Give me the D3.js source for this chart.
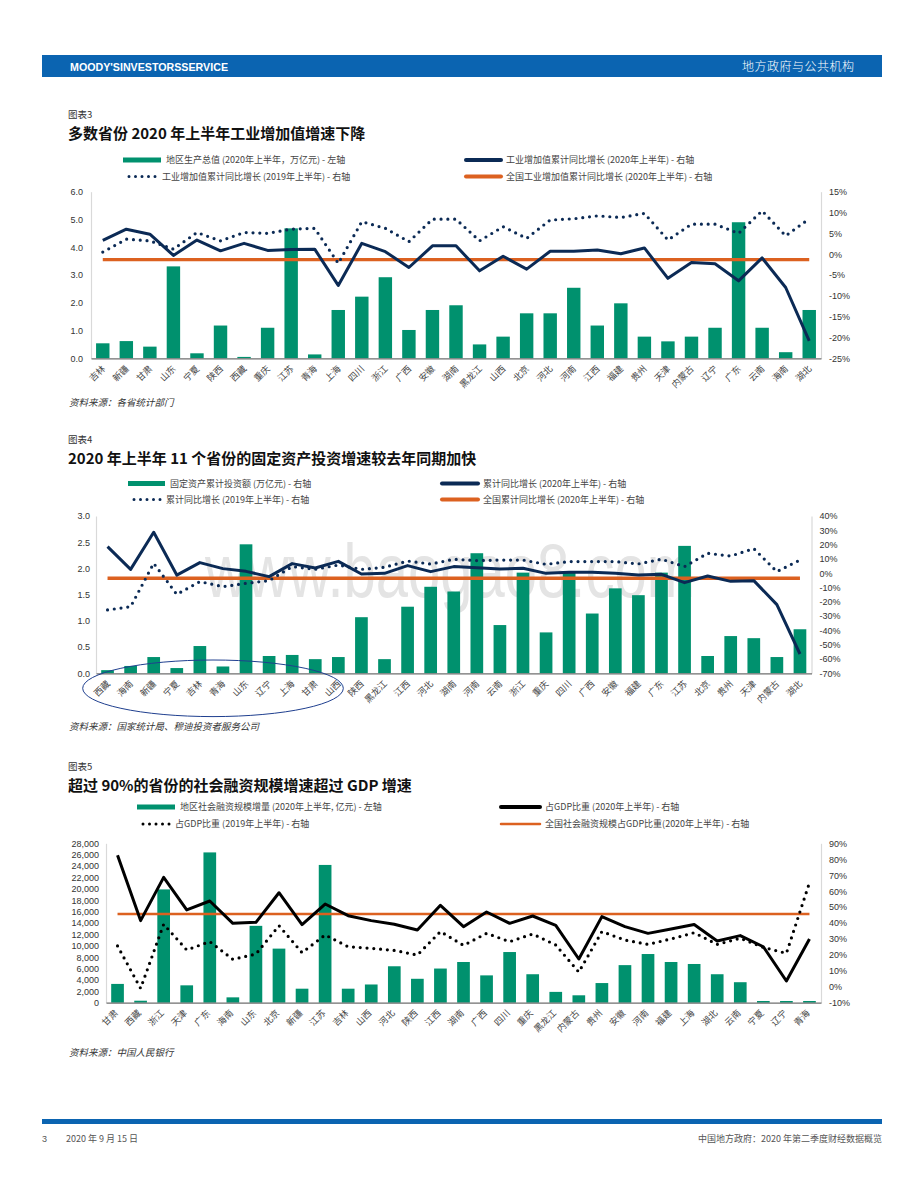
<!DOCTYPE html>
<html>
<head>
<meta charset="utf-8">
<script src="https://cdn.jsdelivr.net/npm/d3@7"></script>
<style>
body { margin: 0; background: #fff; }
svg text { font-family: "Liberation Sans", "Noto Sans CJK SC", sans-serif; }
.cjk { font-family: "Noto Sans CJK SC", sans-serif; }
</style>
</head>
<body>
<svg id="page" width="920" height="1191"></svg>
<script>
// Chart 3 data =========================================================
var cats3 = ["吉林","新疆","甘肃","山东","宁夏","陕西","西藏","重庆","江苏","青海","上海","四川","浙江","广西","安徽","湖南","黑龙江","山西","北京","河北","河南","江西","福建","贵州","天津","内蒙古","辽宁","广东","云南","海南","湖北"];
var gdp3 = [0.54,0.62,0.42,3.31,0.18,1.18,0.05,1.10,4.68,0.14,1.74,2.22,2.92,1.02,1.74,1.91,0.50,0.78,1.62,1.62,2.54,1.18,1.98,0.78,0.61,0.78,1.10,4.90,1.10,0.22,1.74];
var iva2020 = [3.3,6.0,4.8,-0.3,3.4,0.8,2.6,0.9,1.1,1.2,-7.5,2.6,0.6,-3.2,2.0,2.0,-4.0,-0.5,-3.6,0.7,0.7,1.0,0.1,1.5,-5.8,-2.0,-2.3,-6.4,-0.9,-8.0,-20.8];
var iva2019 = [0.5,3.6,3.2,1.2,5.2,3.2,5.2,5.0,6.0,6.2,-2.2,7.8,6.2,3.0,8.4,8.4,3.2,6.6,3.8,8.2,8.5,9.2,8.8,9.8,3.4,7.2,7.2,5.0,10.4,4.4,8.5];
var ivaNational = -1.3;
var ticksL3 = [0,1,2,3,4,5,6];
var ticksR3 = [-25,-20,-15,-10,-5,0,5,10,15];

// Chart 4 data =========================================================
var cats4 = ["西藏","海南","新疆","宁夏","吉林","青海","山东","辽宁","上海","甘肃","山西","陕西","黑龙江","江西","河北","湖南","河南","云南","浙江","重庆","四川","广西","安徽","福建","广东","江苏","北京","贵州","天津","内蒙古","湖北"];
var fai4 = [0.06,0.14,0.31,0.10,0.52,0.13,2.46,0.33,0.35,0.27,0.31,1.07,0.27,1.27,1.65,1.56,2.29,0.92,1.92,0.78,1.95,1.14,1.62,1.49,1.92,2.43,0.33,0.71,0.67,0.31,0.84];
var fai2020 = [18.6,2.7,28.6,-1.3,7.4,3.2,1.3,-2.4,6.7,3.6,8.3,-0.6,-0.1,5.3,1.1,4.6,3.8,3.0,3.4,-0.1,0.6,0.6,-0.1,-1.3,-0.8,-6.6,-2.0,-5.7,-5.2,-22.0,-56.5];
var fai2019 = [-25.7,-23.4,6.9,-14.8,-5.9,-9.4,-7.1,-5.2,4.6,2.7,5.7,2.7,4.1,8.5,6.4,9.7,8.8,9.2,9.2,6.2,8.1,8.1,8.1,6.5,9.8,4.6,13.9,12.0,17.2,1.1,9.2];
var faiNational = -3.5;
var ticksL4 = [0,0.5,1,1.5,2,2.5,3];
var ticksR4 = [-70,-60,-50,-40,-30,-20,-10,0,10,20,30,40];

// Chart 5 data =========================================================
var cats5 = ["甘肃","西藏","浙江","天津","广东","海南","山东","北京","新疆","江苏","吉林","山西","河北","陕西","江西","湖南","广西","四川","重庆","黑龙江","内蒙古","贵州","安徽","河南","福建","上海","湖北","云南","宁夏","辽宁","青海"];
var tsf5 = [3300,350,19900,3050,26400,940,13500,9500,2460,24200,2460,3200,6400,4200,6000,7150,4800,8900,5000,1900,1300,3450,6600,8550,7150,6800,5000,3600,300,300,300];
var ratio2020 = [82.5,41.5,68.6,48.2,53.8,39.8,40.4,59.0,39.0,51.9,44.6,41.5,39.2,35.6,51.1,37.7,46.9,39.8,44.4,38.5,17.4,44.0,37.7,33.5,36.2,39.0,28.7,32.1,25.1,3.6,30.0];
var ratio2019 = [25.6,-1.0,39.2,23.1,28.3,17.2,20.5,38.3,21.4,32.5,25.1,24.1,22.8,19.9,34.6,26.0,33.5,28.3,33.1,26.2,9.2,34.6,29.3,26.6,30.0,33.9,26.6,30.4,24.7,21.0,65.3];
var ratioNational = 45.6;
var ticksL5 = d3.range(0, 28001, 2000);
var ticksR5 = [-10,0,10,20,30,40,50,60,70,80,90];

var GREEN = "#00916e", NAVY = "#0b2a55", ORANGE = "#dc6120", GREY = "#555";

var svg = d3.select("#page");

// Page frame ===========================================================
svg.append("rect").attr("x", 42).attr("y", 55).attr("width", 840).attr("height", 22).attr("fill", "#0b64b1");
svg.append("text").attr("x", 70).attr("y", 70.5).attr("fill", "#fff")
	.attr("font-family", "Open Sans").attr("font-weight", 700).attr("font-size", 10.5)
	.attr("textLength", 158).attr("lengthAdjust", "spacingAndGlyphs")
	.text("MOODY'SINVESTORSSERVICE");
svg.append("text").attr("class", "cjk").attr("x", 854).attr("y", 71).attr("fill", "#fff")
	.attr("text-anchor", "end").attr("font-size", 12).attr("font-weight", 300)
	.attr("textLength", 112).text("地方政府与公共机构");

svg.append("rect").attr("x", 42).attr("y", 1119).attr("width", 840).attr("height", 5).attr("fill", "#0b64b1");
svg.append("text").attr("x", 42).attr("y", 1142).attr("fill", GREY).attr("font-size", 9).text("3");
svg.append("text").attr("class", "cjk").attr("x", 66).attr("y", 1142).attr("fill", GREY).attr("font-size", 9).text("2020 年 9 月 15 日");
svg.append("text").attr("class", "cjk").attr("x", 882).attr("y", 1142).attr("fill", GREY).attr("font-size", 9)
	.attr("text-anchor", "end").text("中国地方政府：2020 年第二季度财经数据概览");

// Functions ============================================================

function heading(y, label, title) {
	svg.append("text").attr("class", "cjk").attr("x", 68).attr("y", y).attr("font-size", 9.5)
		.attr("fill", "#333").text(label);
	svg.append("text").attr("class", "cjk").attr("x", 68).attr("y", y + 21).attr("font-size", 15)
		.attr("font-weight", 700).attr("fill", "#111").text(title);
}

function source(y, txt) {
	svg.append("text").attr("class", "cjk").attr("x", 69).attr("y", y).attr("font-size", 9.5)
		.attr("font-style", "italic").attr("fill", "#333").text(txt);
}

// one legend entry: kind = bar | line | dots
function legendItem(x1, x2, y, kind, color, width, txt) {
	if (kind == "bar") {
		svg.append("rect").attr("x", x1).attr("y", y - 2.5).attr("width", x2 - x1).attr("height", 5).attr("fill", color);
	} else {
		svg.append("line").attr("x1", x1).attr("x2", x2).attr("y1", y).attr("y2", y)
			.attr("stroke", color).attr("stroke-width", width).attr("stroke-linecap", "round")
			.attr("stroke-dasharray", kind == "dots" ? "0,6.5" : null);
	}
	svg.append("text").attr("class", "cjk").attr("x", x2 + 5).attr("y", y + 3.2).attr("font-size", 9)
		.attr("fill", "#444").text(txt);
}

function drawChart(c) {
	var g = svg.append("g");
	var x = d3.scaleBand().domain(c.cats).range([c.left, c.right]).paddingInner(c.pad).paddingOuter(c.pad / 2);
	var yL = d3.scaleLinear().domain(c.yLeft).range([c.bottom, c.top]);
	var yR = d3.scaleLinear().domain(c.yRight).range([c.bottom, c.top]);
	var cx = function(i) { return x(c.cats[i]) + x.bandwidth() / 2; };
	var idx = d3.range(c.cats.length);

	if (c.watermark) {
		// faint site watermark behind the marks
		g.append("text").attr("transform", "translate(205,597) scale(1,1.3)")
			.attr("font-size", 58).attr("fill", "#e4e4e4").text(c.watermark);
	}

	var axL = g.append("g").attr("transform", "translate(" + c.left + ",0)")
		.call(d3.axisLeft(yL).tickValues(c.ticksL).tickFormat(c.fmtL).tickSize(0).tickPadding(c.padL));
	var axR = g.append("g").attr("transform", "translate(" + c.right + ",0)")
		.call(d3.axisRight(yR).tickValues(c.ticksR).tickFormat(function(d) { return d + "%"; }).tickSize(0).tickPadding(8));
	[axL, axR].forEach(function(a) {
		a.attr("font-family", "Liberation Sans").attr("font-size", 9);
		a.select(".domain").attr("stroke", "#d9d9d9").attr("stroke-width", 1.2);
		a.selectAll("text").attr("fill", "#333");
	});

	g.selectAll("rect.bar").data(idx).join("rect")
		.attr("class", "bar")
		.attr("x", function(i) { return x(c.cats[i]); })
		.attr("width", x.bandwidth())
		.attr("y", function(i) { return yL(c.bars[i]); })
		.attr("height", function(i) { return yL(0) - yL(c.bars[i]); })
		.attr("fill", GREEN);

	var axB = g.append("g").attr("transform", "translate(0," + c.bottom + ")")
		.call(d3.axisBottom(x).tickSize(0));
	axB.select(".domain").attr("stroke", "#6f6f6f").attr("stroke-width", 1.2);
	axB.selectAll("text")
		.attr("class", "cjk").attr("font-size", 9).attr("fill", "#444")
		.attr("y", 0).attr("dy", 0).attr("text-anchor", "end")
		.attr("transform", "translate(" + c.labDx + "," + c.labDy + ") rotate(-45)");

	var line = function(vals) {
		return d3.line().x(function(i) { return cx(i); }).y(function(i) { return yR(vals[i]); })(idx);
	};

	g.append("line")
		.attr("x1", cx(0)).attr("x2", cx(c.cats.length - 1))
		.attr("y1", yR(c.national)).attr("y2", yR(c.national))
		.attr("stroke", ORANGE).attr("stroke-width", c.natWidth);

	g.append("path").attr("d", line(c.prev)).attr("fill", "none")
		.attr("stroke", c.lineColor).attr("stroke-width", 3.2)
		.attr("stroke-linecap", "round").attr("stroke-dasharray", "0,6.8");

	g.append("path").attr("d", line(c.cur)).attr("fill", "none")
		.attr("stroke", c.lineColor).attr("stroke-width", 3).attr("stroke-linejoin", "round");
	return g;
}

// Chart 3 ==============================================================
heading(118, "图表3", "多数省份 2020 年上半年工业增加值增速下降");
legendItem(123, 161, 160, "bar", GREEN, 5, "地区生产总值 (2020年上半年，万亿元) - 左轴");
legendItem(129, 157, 176.5, "dots", NAVY, 3, "工业增加值累计同比增长 (2019年上半年) - 右轴");
legendItem(466, 501, 160, "line", NAVY, 4, "工业增加值累计同比增长 (2020年上半年) - 右轴");
legendItem(466, 501, 176.5, "line", ORANGE, 4, "全国工业增加值累计同比增长 (2020年上半年) - 右轴");
drawChart({
	cats: cats3, bars: gdp3, cur: iva2020, prev: iva2019, national: ivaNational,
	left: 91, right: 821, top: 191.7, bottom: 358.3, pad: 0.43,
	yLeft: [0, 6], yRight: [-25, 15], ticksL: ticksL3, ticksR: ticksR3,
	fmtL: d3.format(".1f"), padL: 8, labDx: 3, labDy: 11,
	lineColor: NAVY, natWidth: 3.4
});
source(406, "资料来源：各省统计部门");

// Chart 4 ==============================================================
heading(443, "图表4", "2020 年上半年 11 个省份的固定资产投资增速较去年同期加快");
legendItem(128, 165, 483.5, "bar", GREEN, 5, "固定资产累计投资额 (万亿元) - 右轴");
legendItem(134, 161, 499.5, "dots", NAVY, 3, "累计同比增长 (2019年上半年) - 右轴");
legendItem(442, 478, 483.5, "line", NAVY, 4, "累计同比增长 (2020年上半年) - 右轴");
legendItem(442, 478, 499.5, "line", ORANGE, 4, "全国累计同比增长 (2020年上半年) - 右轴");
drawChart({
	cats: cats4, bars: fai4, cur: fai2020, prev: fai2019, national: faiNational,
	left: 96, right: 811.5, top: 516, bottom: 673.3, pad: 0.45,
	yLeft: [0, 3], yRight: [-70, 40], ticksL: ticksL4, ticksR: ticksR4,
	fmtL: d3.format(".1f"), padL: 6, labDx: 3, labDy: 11,
	lineColor: NAVY, natWidth: 3.4, watermark: "www.baogao8.com"
});
svg.append("ellipse").attr("cx", 213).attr("cy", 688.3).attr("rx", 130.3).attr("ry", 28.3)
	.attr("fill", "none").attr("stroke", "#1f3f8f").attr("stroke-width", 1);
source(730, "资料来源：国家统计局、穆迪投资者服务公司");

// Chart 5 ==============================================================
heading(770, "图表5", "超过 90%的省份的社会融资规模增速超过 GDP 增速");
legendItem(137, 175, 807, "bar", GREEN, 5, "地区社会融资规模增量 (2020年上半年, 亿元) - 左轴");
legendItem(143, 170, 824, "dots", "#000", 3, "占GDP比重 (2019年上半年) - 右轴");
legendItem(501, 540, 807, "line", "#000", 4, "占GDP比重 (2020年上半年) - 右轴");
legendItem(501, 540, 824, "line", ORANGE, 2.5, "全国社会融资规模占GDP比重(2020年上半年) - 右轴");
drawChart({
	cats: cats5, bars: tsf5, cur: ratio2020, prev: ratio2019, national: ratioNational,
	left: 106, right: 821, top: 843.3, bottom: 1002.7, pad: 0.45,
	yLeft: [0, 28000], yRight: [-10, 90], ticksL: ticksL5, ticksR: ticksR5,
	fmtL: d3.format(","), padL: 7, labDx: 1, labDy: 11,
	lineColor: "#000", natWidth: 2.4
});
source(1056, "资料来源：中国人民银行");
</script>
</body>
</html>
